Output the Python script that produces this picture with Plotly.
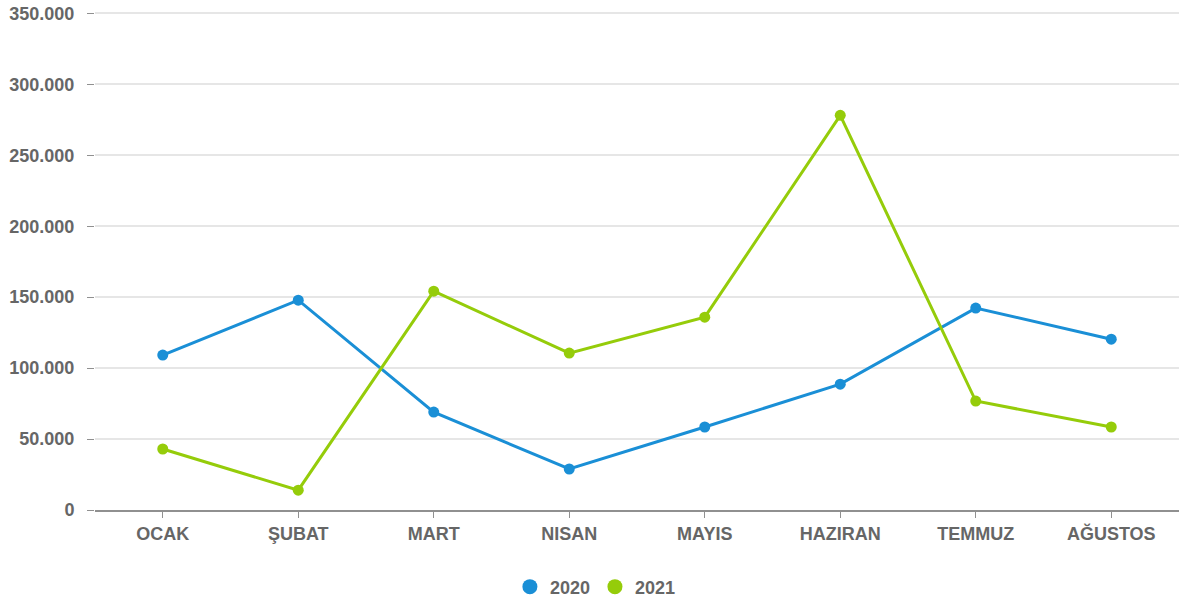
import plotly.graph_objects as go

months = ["OCAK", "ŞUBAT", "MART", "NISAN", "MAYIS", "HAZIRAN", "TEMMUZ", "AĞUSTOS"]
values_2020 = [109200, 147900, 69000, 28900, 58500, 88700, 142300, 120400]
values_2021 = [43000, 14000, 154200, 110600, 135900, 278200, 76800, 58500]
tick_vals = [0, 50000, 100000, 150000, 200000, 250000, 300000, 350000]
tick_text = ["0", "50.000", "100.000", "150.000", "200.000", "250.000", "300.000", "350.000"]

BLUE = "#1a8fd6"
GREEN = "#95cc0a"
FONT = "Liberation Sans, Arial, sans-serif"
GREY = "#666666"

fig = go.Figure()
for name, vals, col in [("2020", values_2020, BLUE), ("2021", values_2021, GREEN)]:
    fig.add_trace(go.Scatter(
        x=months, y=vals, mode="lines+markers", name=name,
        line=dict(color=col, width=3),
        marker=dict(color=col, size=11),
        showlegend=False, hoverinfo="x+y",
    ))
for name, col in [("2020", BLUE), ("2021", GREEN)]:
    fig.add_trace(go.Scatter(
        x=[None], y=[None], mode="markers", name=name,
        marker=dict(color=col, size=15), showlegend=True,
    ))

fig.update_layout(
    width=1179, height=607,
    margin=dict(l=95, r=0, t=12, b=97),
    paper_bgcolor="white", plot_bgcolor="white",
    font=dict(family=FONT, size=18, color=GREY),
    legend=dict(
        orientation="h", xref="container", yref="container",
        x=0.505, xanchor="center", y=0.033, yanchor="middle",
        font=dict(family=FONT, size=18, color=GREY, weight="bold"),
        itemwidth=30, tracegroupgap=0,
    ),
    xaxis=dict(
        type="category", range=[-0.5, 7.5],
        showline=True, linecolor="#909090", linewidth=2,
        ticks="outside", ticklen=6, tickcolor="#909090",
        showgrid=False, zeroline=False,
        tickfont=dict(family=FONT, size=18, color=GREY, weight="bold"),
        fixedrange=True,
    ),
    yaxis=dict(
        range=[0, 351000], tickvals=tick_vals, ticktext=tick_text,
        showgrid=True, gridcolor="#e6e6e6", gridwidth=1.5,
        ticks="outside", ticklen=7, tickcolor="#909090",
        ticklabelstandoff=9, ticklabeloverflow="allow",
        automargin=False,
        zeroline=False, showline=False,
        tickfont=dict(family=FONT, size=18, color=GREY, weight="bold"),
        fixedrange=True,
    ),
)

fig.write_html(
    "out.html",
    config={"displayModeBar": False},
    post_script="document.body.style.margin='0';document.body.style.overflow='hidden';",
)
